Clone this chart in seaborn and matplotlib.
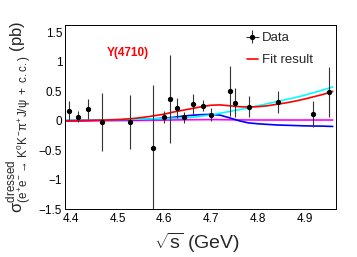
import matplotlib
matplotlib.use("Agg")
import matplotlib.pyplot as plt
import pandas as pd
import seaborn as sns
from matplotlib.lines import Line2D
from matplotlib.ticker import FuncFormatter, MultipleLocator

# measured dressed cross sections
energy = [4.396, 4.416, 4.436, 4.467, 4.527, 4.575, 4.600, 4.612, 4.628, 4.641,
          4.661, 4.682, 4.699, 4.740, 4.750, 4.781, 4.843, 4.918, 4.951]
xsec = [0.17, 0.07, 0.20, -0.02, -0.02, -0.46, 0.07, 0.37, 0.21, 0.06,
        0.28, 0.26, 0.10, 0.51, 0.31, 0.24, 0.32, 0.12, 0.49]
xsec_err = [0.16, 0.09, 0.17, 0.49, 0.46, 1.07, 0.10, 0.75, 0.17, 0.09,
            0.17, 0.10, 0.11, 0.42, 0.25, 0.18, 0.18, 0.22, 0.42]

# fit curves
curve_x = [4.39, 4.42, 4.45, 4.48, 4.51, 4.54, 4.57, 4.60, 4.62, 4.64, 4.66, 4.68, 4.70,
           4.72, 4.74, 4.76, 4.78, 4.80, 4.82, 4.84, 4.86, 4.88, 4.90, 4.92, 4.94, 4.96]
fit_total = [0.00, 0.005, 0.01, 0.015, 0.025, 0.045, 0.075, 0.115, 0.15, 0.18, 0.21, 0.24, 0.265,
             0.27, 0.255, 0.24, 0.235, 0.24, 0.255, 0.28, 0.305, 0.335, 0.37, 0.41, 0.45, 0.50]
fit_cyan = [0.01, 0.012, 0.015, 0.018, 0.022, 0.027, 0.033, 0.04, 0.045, 0.052, 0.06, 0.08, 0.10,
            0.13, 0.16, 0.19, 0.22, 0.255, 0.29, 0.325, 0.36, 0.395, 0.435, 0.48, 0.525, 0.575]
fit_blue = [0.005, 0.008, 0.01, 0.013, 0.017, 0.022, 0.03, 0.045, 0.06, 0.08, 0.095, 0.105, 0.11,
            0.095, 0.05, 0.0, -0.035, -0.05, -0.06, -0.07, -0.075, -0.08, -0.085, -0.088, -0.09, -0.095]
fit_magenta = [-0.005, -0.003, 0.0, 0.002, 0.004, 0.006, 0.009, 0.012, 0.015, 0.017, 0.019, 0.02, 0.021,
               0.02, 0.018, 0.016, 0.015, 0.014, 0.014, 0.014, 0.014, 0.014, 0.014, 0.014, 0.014, 0.014]

components = {"magenta": fit_magenta, "blue": fit_blue, "cyan": fit_cyan, "total": fit_total}
palette = {"magenta": "#ff00ff", "blue": "#0000ff", "cyan": "#00ffff", "total": "#ff0000"}

curves = pd.concat(
    [pd.DataFrame({"energy": curve_x, "xsec": vals, "component": name})
     for name, vals in components.items()],
    ignore_index=True,
)

sns.set_theme(style="white")
plt.rcParams["font.family"] = ["Liberation Sans", "DejaVu Sans"]
plt.rcParams["mathtext.fontset"] = "custom"
plt.rcParams["mathtext.rm"] = "Liberation Sans"
plt.rcParams["mathtext.it"] = "Liberation Sans"
plt.rcParams["mathtext.bf"] = "Liberation Sans:bold"

fig = plt.figure(figsize=(3.57, 2.57), dpi=100)
ax = fig.add_axes([65 / 357, 1 - 209.3 / 257, 271 / 357, 184 / 257])

sns.lineplot(data=curves, x="energy", y="xsec", hue="component", palette=palette,
             hue_order=list(components), linewidth=1.2, sort=False, legend=False, ax=ax)

data_h = ax.errorbar(energy, xsec, yerr=xsec_err, xerr=0, fmt="o", color="black",
                     ecolor="#333333", elinewidth=0.8, markersize=2.8, capsize=0, zorder=5)

ax.set_xlim(4.3876, 4.967)
ax.set_ylim(-1.5, 1.62)
ax.set_xlabel("")
ax.set_ylabel("")

fmt = FuncFormatter(lambda v, _: f"{v:g}".replace("-", "\u2212"))
ax.xaxis.set_major_locator(MultipleLocator(0.1))
ax.xaxis.set_minor_locator(MultipleLocator(0.02))
ax.yaxis.set_major_locator(MultipleLocator(0.5))
ax.yaxis.set_minor_locator(MultipleLocator(0.1))
ax.xaxis.set_major_formatter(fmt)
ax.yaxis.set_major_formatter(fmt)
ax.tick_params(which="both", direction="in", top=False, right=False, labelsize=8.5,
               colors="black", width=0.7)
ax.tick_params(axis="y", which="major", length=5.5, pad=2)
ax.tick_params(axis="y", which="minor", length=3)
ax.tick_params(axis="x", which="major", length=4, pad=3)
ax.tick_params(axis="x", which="minor", length=2)
for side in ax.spines.values():
    side.set_color("black")
    side.set_linewidth(0.7)

fit_h = Line2D([], [], color="#ff0000", linewidth=1.2)
ax.legend([data_h, fit_h], ["Data", "Fit result"], loc="upper left",
          bbox_to_anchor=(247 / 357, 1 - 32 / 257), bbox_transform=fig.transFigure,
          frameon=False, fontsize=9.5, handlelength=0.8, handletextpad=0.3,
          labelspacing=0.75, borderpad=0, borderaxespad=0)

fig.text(128 / 357, 1 - 53 / 257, "Y(4710)", color="#ff0000", fontsize=8.5,
         fontweight="bold", ha="center", va="center")

fig.text(197 / 357, 1 - 243 / 257, r"$\sqrt{s}$ (GeV)", fontsize=14,
         ha="center", va="center")
fig.text(19 / 357, 1 - 117 / 257,
         r"$\sigma^{\mathrm{dressed}}_{(e^{+}e^{-}\rightarrow\,K^{0}K^{-}\pi^{+}J/\psi\ +\ c.c.)}$ (pb)",
         fontsize=12, rotation=90, ha="center", va="center")

fig.savefig("out.png", dpi=100)
